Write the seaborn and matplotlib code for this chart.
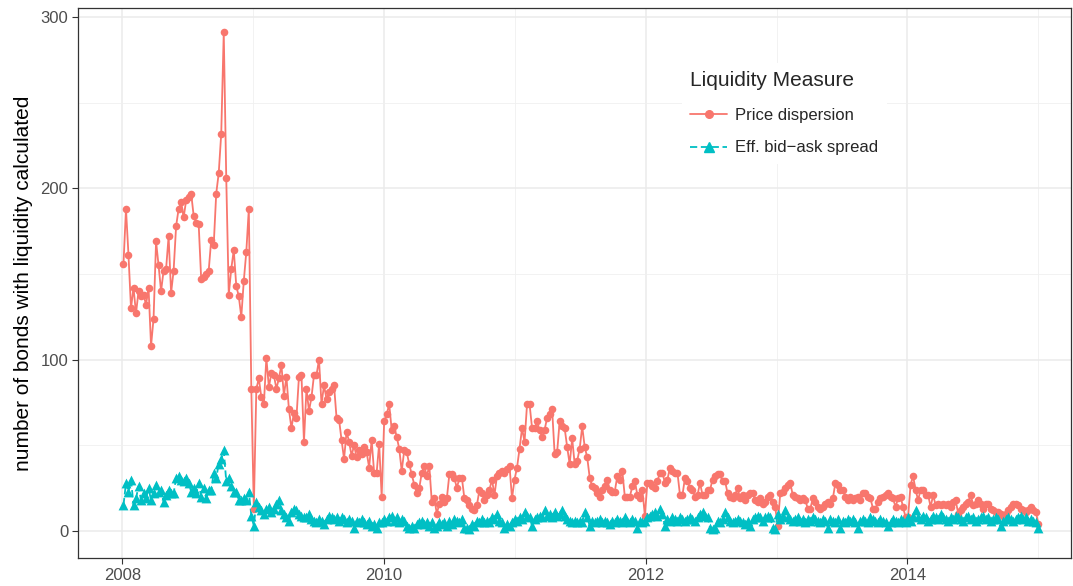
import numpy as np
import pandas as pd
import matplotlib
matplotlib.use("Agg")
import matplotlib.pyplot as plt
import matplotlib.dates as mdates
from matplotlib.lines import Line2D
from matplotlib.ticker import MultipleLocator
import seaborn as sns

# ---------------- data (weekly observations) ----------------
start_date = "2008-01-04"
series_names = ["Price dispersion", "Eff. bid\u2212ask spread"]
colors = ["#F8766D", "#00BFC4"]

price_2008 = [156, 188, 161, 130, 142, 127, 140, 137, 138, 132, 142, 108, 124, 169, 155, 140,
              152, 153, 172, 139, 152, 178, 188, 192, 183, 193, 195, 197, 184, 180, 179, 147,
              148, 150, 152, 170, 167, 197, 209, 232, 291, 206, 138, 153, 164, 143, 137, 125,
              146, 163, 188]
price_2009 = [83, 13, 83, 89, 78, 74, 101, 84, 92, 91, 83, 89, 97, 79, 90, 71, 60, 69, 66, 90,
              91, 52, 83, 70, 78, 91, 91, 100, 74, 85, 77, 81, 83, 85, 66, 65, 53, 42, 58, 52,
              44, 50, 43, 47, 45, 49, 46, 37, 53, 34, 34, 51]
price_2010 = [20, 64, 68, 74, 59, 61, 55, 48, 35, 47, 46, 39, 33, 27, 22, 25, 34, 38, 32, 38,
              17, 19, 10, 16, 20, 17, 19, 33, 33, 31, 25, 31, 31, 19, 18, 15, 13, 12, 15, 24,
              22, 18, 21, 24, 30, 21, 32, 34, 35, 34, 36]
price_2011 = [38, 19, 30, 37, 48, 60, 52, 74, 74, 60, 60, 64, 59, 55, 59, 66, 68, 71, 45, 46,
              64, 61, 60, 49, 39, 54, 39, 41, 48, 61, 49, 43, 31, 26, 25, 22, 20, 24, 26, 30,
              24, 23, 23, 32, 30, 35, 20, 20, 20, 26, 29, 21]
price_2012 = [19, 24, 9, 28, 28, 26, 25, 29, 34, 34, 28, 30, 37, 35, 34, 34, 21, 21, 31, 29,
              25, 24, 20, 21, 28, 21, 21, 24, 24, 30, 32, 33, 33, 29, 29, 22, 20, 19, 21, 25,
              19, 21, 18, 21, 22, 22, 18, 17, 19, 16, 17, 20, 21]
price_2013 = [17, 14, 3, 22, 23, 25, 27, 28, 21, 20, 19, 18, 19, 18, 13, 13, 19, 17, 14, 13,
              14, 16, 17, 16, 19, 28, 27, 24, 24, 20, 18, 20, 18, 19, 20, 18, 22, 22, 20, 19,
              13, 13, 17, 19, 20, 21, 22, 20, 19, 14, 19]
price_2014 = [20, 14, 8, 8, 27, 32, 24, 18, 24, 24, 21, 21, 14, 21, 15, 16, 15, 16, 15, 16,
              14, 17, 18, 10, 12, 14, 16, 17, 21, 15, 16, 18, 16, 13, 16, 16, 13, 12, 11, 11,
              10, 9, 10, 12, 14, 16, 16, 15, 13, 12, 11, 12, 14, 12, 11, 4]

spread_2008 = [15, 28, 23, 30, 15, 19, 26, 18, 22, 19, 25, 18, 22, 27, 23, 24, 17, 21, 24, 22,
               22, 31, 32, 30, 29, 31, 28, 23, 25, 22, 28, 20, 25, 19, 24, 24, 34, 31, 39, 42,
               47, 29, 31, 26, 23, 23, 18, 18, 19, 18, 23]
spread_2009 = [9, 3, 17, 14, 12, 10, 13, 14, 11, 13, 16, 18, 12, 10, 8, 6, 11, 13, 12, 10,
               9, 8, 8, 10, 7, 6, 5, 7, 6, 4, 7, 9, 8, 7, 8, 6, 8, 7, 5, 7,
               6, 2, 6, 5, 7, 5, 4, 6, 3, 4, 2, 5]
spread_2010 = [5, 7, 6, 8, 9, 6, 8, 5, 7, 6, 3, 2, 3, 2, 4, 5, 6, 4, 5, 3,
               5, 2, 3, 5, 4, 5, 3, 6, 4, 7, 6, 5, 7, 2, 2, 1, 4, 3, 6, 5,
               7, 5, 6, 5, 8, 7, 10, 6, 5, 2, 4]
spread_2011 = [3, 5, 7, 6, 8, 7, 11, 9, 8, 3, 7, 8, 9, 8, 12, 9, 10, 8, 11, 9,
               10, 12, 9, 7, 6, 5, 6, 5, 6, 5, 11, 8, 3, 6, 5, 6, 7, 5, 6, 5,
               4, 6, 5, 7, 6, 5, 8, 6, 5, 7, 6, 2]
spread_2012 = [6, 5, 6, 8, 9, 10, 11, 9, 13, 10, 3, 7, 6, 8, 7, 6, 8, 7, 6, 7,
               8, 7, 6, 8, 10, 11, 9, 8, 2, 1, 2, 6, 5, 7, 11, 8, 6, 5, 6, 7,
               6, 5, 4, 6, 3, 7, 8, 9, 8, 6, 8, 9, 8]
spread_2013 = [2, 1, 10, 7, 9, 12, 8, 7, 6, 7, 8, 6, 7, 5, 7, 6, 8, 7, 6, 5,
               7, 6, 2, 7, 6, 5, 7, 2, 6, 5, 7, 6, 7, 5, 2, 6, 7, 6, 5, 8,
               7, 6, 5, 7, 6, 5, 3, 5, 7, 6, 5]
spread_2014 = [7, 6, 5, 8, 6, 9, 12, 8, 7, 9, 8, 6, 7, 9, 8, 7, 10, 8, 7, 6,
               8, 7, 9, 8, 7, 6, 8, 9, 7, 8, 6, 7, 8, 9, 7, 8, 6, 7, 8, 7,
               3, 6, 7, 8, 7, 6, 7, 8, 9, 7, 8, 6, 7, 6, 5, 2]

price = (price_2008 + price_2009 + price_2010 + price_2011 + price_2012
         + price_2013 + price_2014)
spread = (spread_2008 + spread_2009 + spread_2010 + spread_2011 + spread_2012
          + spread_2013 + spread_2014)

dates = pd.date_range(start_date, periods=len(price), freq="7D")
df = pd.DataFrame({
    "date": list(dates) * 2,
    "value": price + spread,
    "measure": [series_names[0]] * len(price) + [series_names[1]] * len(spread),
})

# ---------------- plot ----------------
sns.set_theme(style="white")
plt.rcParams["font.family"] = ["Liberation Sans", "DejaVu Sans"]

W, H = 1073, 586
fig = plt.figure(figsize=(W / 100, H / 100), dpi=100)
ax = fig.add_axes([78 / W, 28 / H, 993 / W, 550 / H])

palette = dict(zip(series_names, colors))
sns.lineplot(data=df, x="date", y="value", hue="measure", style="measure",
             palette=palette, dashes={series_names[0]: "", series_names[1]: (4, 2)},
             linewidth=1.3, estimator=None, legend=False, ax=ax, zorder=2)
sns.scatterplot(data=df[df.measure == series_names[0]], x="date", y="value",
                color=colors[0], marker="o", s=30, linewidth=0, legend=False, ax=ax, zorder=3)
sns.scatterplot(data=df[df.measure == series_names[1]], x="date", y="value",
                color=colors[1], marker="^", s=50, linewidth=0, legend=False, ax=ax, zorder=4)

ax.set_xlim(pd.Timestamp("2007-08-30"), pd.Timestamp("2015-04-03"))
ax.set_ylim(-15.8, 305.3)

ax.xaxis.set_major_locator(mdates.YearLocator(2))
ax.xaxis.set_major_formatter(mdates.DateFormatter("%Y"))
ax.xaxis.set_minor_locator(mdates.YearLocator(1))
ax.yaxis.set_major_locator(MultipleLocator(100))
ax.yaxis.set_minor_locator(MultipleLocator(50))

ax.set_axisbelow(True)
ax.grid(True, which="major", color="#EBEBEB", linewidth=1.1)
ax.grid(True, which="minor", color="#F0F0F0", linewidth=0.6)

ax.tick_params(which="major", length=4, width=0.8, color="#333333",
               labelcolor="#4D4D4D", labelsize=12, pad=3, left=True, bottom=True)
ax.tick_params(which="minor", length=0)
for sp in ax.spines.values():
    sp.set_visible(True)
    sp.set_color("#333333")
    sp.set_linewidth(0.9)

ax.set_xlabel("")
ax.set_ylabel("number of bonds with liquidity calculated", fontsize=15,
              color="black", labelpad=5)

handles = [
    Line2D([], [], color=colors[0], marker="o", markersize=5.5, linewidth=1.3),
    Line2D([], [], color=colors[1], marker="^", markersize=7, linewidth=1.3,
           linestyle=(0, (4, 2))),
]
leg = ax.legend(handles, series_names, title="Liquidity Measure", loc="upper left",
                bbox_to_anchor=(0.600, 0.915), frameon=True, fancybox=False,
                edgecolor="white", facecolor="white", framealpha=1, fontsize=12,
                title_fontsize=15, handlelength=2.2, labelspacing=1.05,
                borderpad=0.5, handletextpad=0.5, alignment="left")
leg.get_frame().set_linewidth(0)

fig.savefig("out.png", dpi=100)
